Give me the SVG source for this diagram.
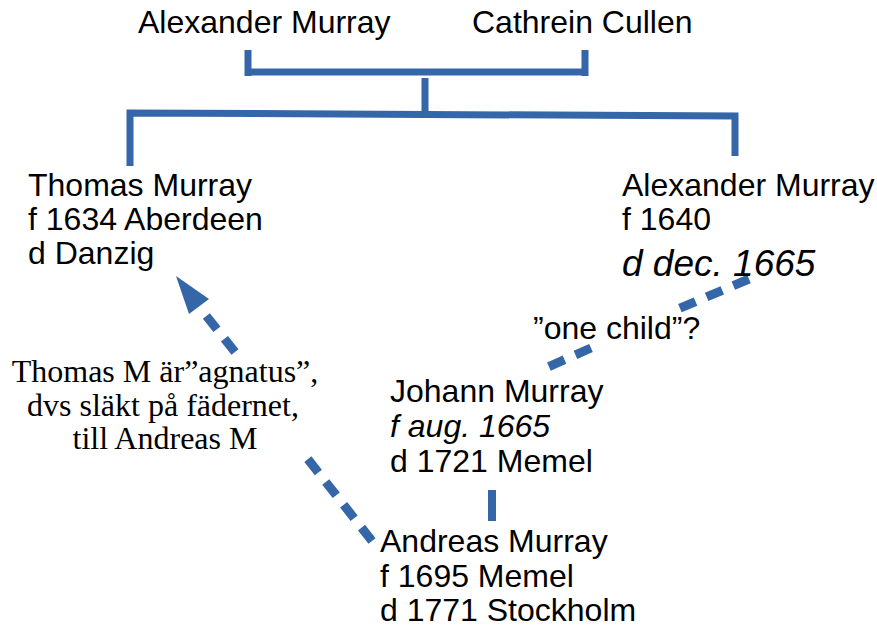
<svg xmlns="http://www.w3.org/2000/svg" width="877" height="627" viewBox="0 0 877 627">
<style>
.t{font-family:"Liberation Sans",Arial,sans-serif;font-size:32px;fill:#000}
.i{font-style:italic}
.big{font-size:37px}
.n{font-family:"Liberation Serif","Times New Roman",serif;font-size:32px;fill:#000;text-anchor:middle}
.l{stroke:#3566a8;stroke-width:7;fill:none}
.d{stroke:#3566a8;stroke-width:9;fill:none;stroke-dasharray:17 12}
</style>
<rect width="877" height="627" fill="#fff"/>
<g id="connectors">
<path class="l" d="M248,50 V76 M248,72 H585 M585,50 V76"/>
<path class="l" d="M425,78 V113"/>
<path class="l" d="M130,166 V113 L735,116 V156"/>
<path class="l" d="M492,490 V521" style="stroke-width:8"/>
<path class="d" d="M749,279 L678,309"/>
<path class="d" d="M591,348 L548,367"/>
<path class="d" d="M372,541 L307,458"/>
<path class="d" d="M235,352 L200,308"/>
<polygon points="176,276 189,314 209,299" fill="#3566a8"/>
</g>
<g id="alexander-sr"><text class="t" x="138" y="33">Alexander Murray</text></g>
<g id="cathrein"><text class="t" x="472" y="33">Cathrein Cullen</text></g>
<g id="thomas"><text class="t" x="28" y="196">Thomas Murray</text><text class="t" x="28" y="230">f 1634 Aberdeen</text><text class="t" x="28" y="264">d Danzig</text></g>
<g id="alexander-jr"><text class="t" x="622" y="196">Alexander Murray</text><text class="t" x="622" y="230">f 1640</text><text class="t i big" x="622" y="276">d dec. 1665</text></g>
<g id="one-child"><text class="t" x="533" y="339">”one child”?</text></g>
<g id="johann"><text class="t" x="390" y="402">Johann Murray</text><text class="t i" x="390" y="437">f aug. 1665</text><text class="t" x="390" y="472">d 1721 Memel</text></g>
<g id="andreas"><text class="t" x="380" y="552">Andreas Murray</text><text class="t" x="380" y="587">f 1695 Memel</text><text class="t" x="380" y="621">d 1771 Stockholm</text></g>
<g id="note"><text class="n" x="165" y="382">Thomas M är”agnatus”,</text><text class="n" x="163" y="416">dvs släkt på fädernet,</text><text class="n" x="165" y="449">till Andreas M</text></g>
</svg>
